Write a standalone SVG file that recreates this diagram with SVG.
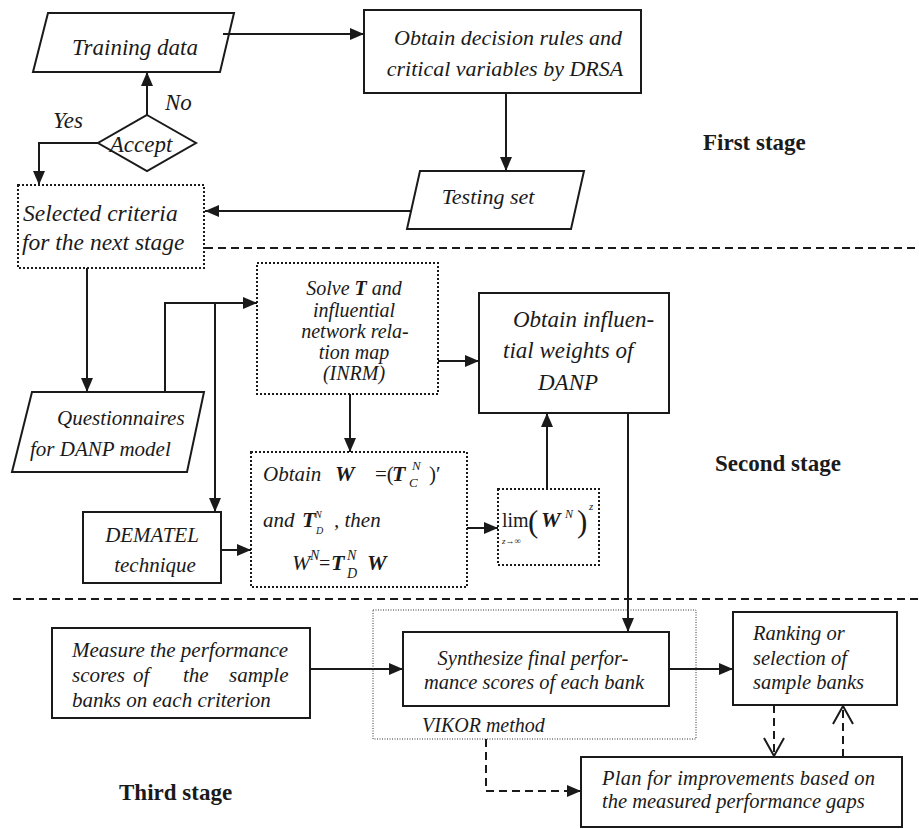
<svg xmlns="http://www.w3.org/2000/svg" width="919" height="829" viewBox="0 0 919 829">
<style>
.box{fill:none;stroke:#1a1a1a;stroke-width:2}
.dot{fill:none;stroke:#1a1a1a;stroke-width:2;stroke-dasharray:2 2}
.thin{fill:none;stroke:#333;stroke-width:1;stroke-dasharray:1 1.5}
.t{font-family:"Liberation Serif","Times New Roman",serif;font-style:italic;fill:#1a1a1a}
.u{font-family:"Liberation Serif","Times New Roman",serif;font-style:normal;font-weight:normal;fill:#1a1a1a}
.b{font-family:"Liberation Serif","Times New Roman",serif;font-style:italic;font-weight:bold;fill:#1a1a1a}
.i{font-style:italic;font-weight:normal}
.stage{font-family:"Liberation Serif","Times New Roman",serif;font-weight:bold;font-size:23px;fill:#1a1a1a}
.c{fill:none;stroke:#1a1a1a;stroke-width:2}
.d{fill:none;stroke:#1a1a1a;stroke-width:2;stroke-dasharray:8 5}
</style>
<defs>
<marker id="ah" markerUnits="userSpaceOnUse" markerWidth="15" markerHeight="13" refX="14" refY="6" orient="auto">
<path d="M0,0 L14,6 L0,12 z" fill="#1a1a1a"/>
</marker>
<marker id="oh" markerUnits="userSpaceOnUse" markerWidth="22" markerHeight="24" refX="19" refY="11" orient="auto">
<path d="M1,1 L19,11 L1,21" fill="none" stroke="#1a1a1a" stroke-width="2"/>
</marker>
</defs>

<g id="stage-lines">
<line class="d" x1="205" y1="248" x2="919" y2="248"/>
<line class="d" x1="13" y1="599" x2="919" y2="599"/>
</g>

<g id="connectors">
<line class="c" x1="223" y1="34" x2="364" y2="34" marker-end="url(#ah)"/>
<line class="c" x1="506" y1="93" x2="506" y2="171" marker-end="url(#ah)"/>
<line class="c" x1="412" y1="211" x2="205" y2="211" marker-end="url(#ah)"/>
<line class="c" x1="147" y1="115" x2="147" y2="72" marker-end="url(#ah)"/>
<polyline class="c" points="98,143 39,143 39,185" marker-end="url(#ah)"/>
<line class="c" x1="87" y1="268" x2="87" y2="392" marker-end="url(#ah)"/>
<polyline class="c" points="165,392 165,303 257,303" marker-end="url(#ah)"/>
<line class="c" x1="215" y1="303" x2="215" y2="512" marker-end="url(#ah)"/>
<line class="c" x1="438" y1="361" x2="479" y2="361" marker-end="url(#ah)"/>
<line class="c" x1="350" y1="394" x2="350" y2="452" marker-end="url(#ah)"/>
<line class="c" x1="221" y1="550" x2="251" y2="550" marker-end="url(#ah)"/>
<line class="c" x1="467" y1="528" x2="498" y2="528" marker-end="url(#ah)"/>
<line class="c" x1="547" y1="489" x2="547" y2="413" marker-end="url(#ah)"/>
<line class="c" x1="628" y1="413" x2="628" y2="632" marker-end="url(#ah)"/>
<line class="c" x1="310" y1="669" x2="403" y2="669" marker-end="url(#ah)"/>
<line class="c" x1="669" y1="669" x2="733" y2="669" marker-end="url(#ah)"/>
<line class="d" x1="774" y1="705" x2="774" y2="756" marker-end="url(#oh)"/>
<line class="d" x1="843" y1="757" x2="843" y2="706" marker-end="url(#oh)"/>
<polyline class="d" points="486,739 486,791 581,791" marker-end="url(#ah)"/>
</g>

<g id="training-data">
<polygon class="box" points="48,13 234,13 220,72 33,72"/>
<text class="t" font-size="23" x="135" y="55" text-anchor="middle">Training data</text>
</g>

<g id="drsa">
<rect class="box" x="364" y="10" width="277" height="83"/>
<text class="t" font-size="22" x="508" y="45" text-anchor="middle">Obtain decision rules and</text>
<text class="t" font-size="22" x="505" y="76" text-anchor="middle">critical variables by DRSA</text>
</g>

<g id="accept">
<polygon class="box" points="147,115 196,143 147,171 98,143"/>
<text class="t" font-size="23" x="141" y="152" text-anchor="middle">Accept</text>
<text class="t" font-size="23" x="165" y="110">No</text>
<text class="t" font-size="23" x="53" y="128">Yes</text>
</g>

<g id="testing-set">
<polygon class="box" points="420,171 584,171 571,229 407,229"/>
<text class="t" font-size="22" x="488" y="204" text-anchor="middle">Testing set</text>
</g>

<g id="selected-criteria">
<rect class="dot" x="18" y="185" width="186" height="83"/>
<text class="t" font-size="23.5" x="23" y="221">Selected criteria</text>
<text class="t" font-size="23.5" x="22" y="250">for the next stage</text>
</g>

<g id="first-stage">
<text class="stage" x="703" y="150">First stage</text>
</g>

<g id="questionnaires">
<polygon class="box" points="32,392 204,392 187,472 12,472"/>
<text class="t" font-size="21" x="57" y="425">Questionnaires</text>
<text class="t" font-size="21" x="30" y="456">for DANP model</text>
</g>

<g id="solve-t">
<rect class="dot" x="257" y="263" width="181" height="131"/>
<text class="t" font-size="20" text-anchor="middle"><tspan x="354" y="295">Solve <tspan class="b">T</tspan> and</tspan><tspan x="354" y="317">influential</tspan><tspan x="355" y="338">network rela-</tspan><tspan x="354" y="359">tion map</tspan><tspan x="354" y="380">(INRM)</tspan></text>
</g>

<g id="influential-weights">
<rect class="box" x="479" y="293" width="190" height="120"/>
<text class="t" font-size="23" x="513" y="327">Obtain influen-</text>
<text class="t" font-size="23" x="503" y="358">tial weights of</text>
<text class="t" font-size="23" x="538" y="390">DANP</text>
</g>

<g id="dematel">
<rect class="box" x="83" y="512" width="138" height="71"/>
<text class="t" font-size="21" x="152" y="542" text-anchor="middle">DEMATEL</text>
<text class="t" font-size="21" x="155" y="572" text-anchor="middle">technique</text>
</g>

<g id="obtain-w">
<rect class="dot" x="251" y="452" width="216" height="135"/>
<text class="t" font-size="21"><tspan x="263" y="481">Obtain</tspan><tspan class="b" font-size="22" x="335" y="481">W</tspan><tspan class="u" x="375" y="481">=(</tspan><tspan class="b" font-size="22" x="392" y="481">T</tspan><tspan font-size="13" x="409" y="487">C</tspan><tspan font-size="13" x="412" y="470">N</tspan><tspan class="u" x="429" y="481">)′</tspan></text>
<text class="t" font-size="21"><tspan x="263" y="527">and</tspan><tspan class="b" font-size="22" x="302" y="527">T</tspan><tspan font-size="10" x="315" y="518">N</tspan><tspan font-size="10" x="316" y="534">D</tspan><tspan x="334" y="527">, then</tspan></text>
<text class="t" font-size="22"><tspan x="292" y="570">W</tspan><tspan font-size="14" x="310" y="560">N</tspan><tspan class="u" font-weight="bold" font-size="20" x="319" y="570">=</tspan><tspan class="b" x="331" y="570">T</tspan><tspan font-size="14" x="347" y="560">N</tspan><tspan font-size="14" x="347" y="578">D</tspan><tspan class="b" x="367" y="570">W</tspan></text>
</g>

<g id="limit">
<rect class="dot" x="498" y="489" width="101" height="76"/>
<text class="u" font-size="20"><tspan x="502" y="527">lim</tspan><tspan class="i" font-size="9" x="502" y="544">z→∞</tspan><tspan font-size="31" x="528" y="532">(</tspan><tspan class="b" font-size="22" x="541" y="527">W</tspan><tspan class="i" font-size="12" x="565" y="518">N</tspan><tspan font-size="31" x="577" y="532">)</tspan><tspan class="i" font-size="11" x="589" y="510">z</tspan></text>
</g>

<g id="second-stage">
<text class="stage" x="715" y="471">Second stage</text>
</g>

<g id="measure">
<rect class="box" x="52" y="628" width="258" height="90"/>
<text class="t" font-size="21" x="72" y="657">Measure the performance</text>
<text class="t" font-size="21" y="682"><tspan x="72">scores</tspan><tspan x="133">of</tspan><tspan x="183">the</tspan><tspan x="229">sample</tspan></text>
<text class="t" font-size="21" x="72" y="707">banks on each criterion</text>
</g>

<g id="vikor">
<rect class="thin" x="373" y="610" width="323" height="129"/>
<text class="t" font-size="20" x="422" y="732">VIKOR method</text>
</g>

<g id="synthesize">
<rect class="box" x="403" y="632" width="266" height="74"/>
<text class="t" font-size="20.5" x="533" y="665" text-anchor="middle">Synthesize final perfor-</text>
<text class="t" font-size="20.5" x="534" y="689" text-anchor="middle">mance scores of each bank</text>
</g>

<g id="ranking">
<rect class="box" x="733" y="612" width="164" height="93"/>
<text class="t" font-size="20.5" x="753" y="640">Ranking or</text>
<text class="t" font-size="20.5" x="753" y="665">selection of</text>
<text class="t" font-size="20.5" x="753" y="689">sample banks</text>
</g>

<g id="plan">
<rect class="box" x="581" y="757" width="321" height="70"/>
<text class="t" font-size="20.5" x="602" y="785" textLength="273" lengthAdjust="spacing">Plan for improvements based on</text>
<text class="t" font-size="20.5" x="602" y="808">the measured performance gaps</text>
</g>

<g id="third-stage">
<text class="stage" x="119" y="800">Third stage</text>
</g>
</svg>
